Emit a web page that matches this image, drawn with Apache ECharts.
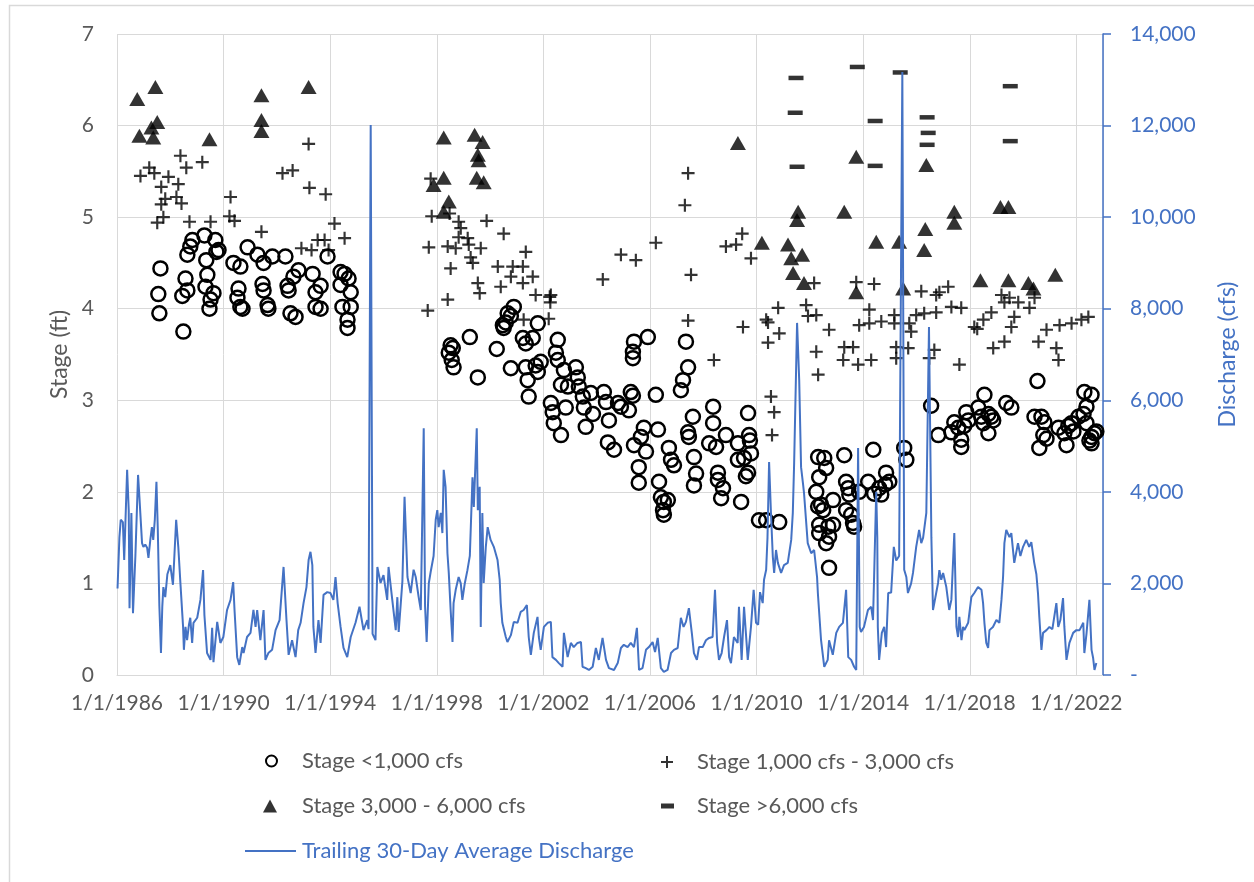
<!DOCTYPE html>
<html>
<head>
<meta charset="utf-8">
<title>Stage and Discharge</title>
<script src="https://cdn.jsdelivr.net/npm/echarts@6/dist/echarts.min.js"></script>
<style>
  html, body { margin: 0; padding: 0; background: #ffffff; }
  #chart { width: 1254px; height: 882px; }
</style>
</head>
<body>
<div id="chart"></div>
<script>
// Axis setup
const BASE_YEAR = 1986;      // first labelled date, 1/1/1986
const END_YEAR = 2023;       // right edge of the date axis
const YEAR_STEP = 4;         // one label every four years
const STAGE_MAX = 7;
const DISCHARGE_MAX = 14000;
const DISCHARGE_STEP = 2000;

// Trailing 30-day average discharge: [decimal year, cfs]
const discharge = [
  [1986.02,1890],[1986.09,3000],[1986.14,3390],[1986.22,3340],[1986.27,2510],[1986.38,4480],[1986.44,3600],[1986.47,1460],
  [1986.54,3540],[1986.60,1350],[1986.69,2600],[1986.79,4370],[1986.84,3890],[1986.94,2880],[1986.99,2800],[1987.06,2850],
  [1987.13,2780],[1987.18,2560],[1987.25,2950],[1987.31,3230],[1987.36,2950],[1987.42,3400],[1987.48,4220],[1987.53,3200],
  [1987.59,1500],[1987.65,480],[1987.70,1500],[1987.74,1920],[1987.81,1700],[1987.89,2200],[1988.00,2400],[1988.10,1970],
  [1988.22,3390],[1988.30,2800],[1988.38,2000],[1988.48,1050],[1988.51,550],[1988.57,1050],[1988.63,760],[1988.70,1100],
  [1988.75,1250],[1988.82,700],[1988.87,1140],[1989.01,1250],[1989.13,1640],[1989.23,2290],[1989.28,1310],[1989.38,480],
  [1989.51,330],[1989.57,1030],[1989.62,280],[1989.76,1160],[1989.88,700],[1989.99,830],[1990.13,1420],[1990.26,1640],
  [1990.36,2030],[1990.41,1420],[1990.51,390],[1990.59,220],[1990.70,610],[1990.75,480],[1990.88,830],[1991.01,920],
  [1991.12,1420],[1991.20,1050],[1991.26,1420],[1991.38,760],[1991.50,1420],[1991.57,330],[1991.68,480],[1991.82,550],
  [1991.95,980],[1992.10,1200],[1992.25,2360],[1992.36,1200],[1992.44,440],[1992.57,760],[1992.70,390],[1992.80,980],
  [1992.89,1140],[1993.00,1570],[1993.11,1920],[1993.19,2510],[1993.26,2690],[1993.33,2400],[1993.37,1050],[1993.45,480],
  [1993.56,1200],[1993.64,700],[1993.75,1750],[1993.89,1810],[1994.01,1790],[1994.12,1640],[1994.20,2140],[1994.28,1570],
  [1994.39,1050],[1994.50,590],[1994.64,390],[1994.77,830],[1994.95,1140],[1995.10,1490],[1995.25,980],[1995.39,1200],
  [1995.44,1000],[1995.52,12010],[1995.59,900],[1995.70,760],[1995.77,2360],[1995.89,2010],[1996.00,2180],[1996.14,1640],
  [1996.19,2360],[1996.33,1640],[1996.46,980],[1996.52,1700],[1996.57,940],[1996.71,2050],[1996.79,3890],[1996.90,2140],
  [1997.02,1790],[1997.13,2300],[1997.21,2140],[1997.32,1700],[1997.40,1420],[1997.51,5390],[1997.56,1500],[1997.62,720],
  [1997.70,2000],[1997.77,2250],[1997.88,2600],[1997.96,3390],[1998.02,3600],[1998.07,3230],[1998.15,3540],[1998.21,3100],
  [1998.26,4480],[1998.33,4110],[1998.40,2660],[1998.45,2230],[1998.52,1420],[1998.59,720],[1998.63,1570],[1998.71,1860],
  [1998.82,2140],[1998.90,2000],[1998.96,1640],[1999.05,2000],[1999.15,2290],[1999.24,2600],[1999.34,4320],[1999.39,3670],
  [1999.50,5390],[1999.54,3600],[1999.61,4110],[1999.65,1050],[1999.71,3540],[1999.76,2010],[1999.84,2800],[1999.91,3230],
  [2000.02,2950],[2000.14,2800],[2000.28,2510],[2000.36,2080],[2000.40,1570],[2000.46,1140],[2000.59,830],[2000.65,720],
  [2000.78,870],[2000.89,1160],[2001.03,1140],[2001.15,1380],[2001.26,1420],[2001.38,1530],[2001.45,830],[2001.53,440],
  [2001.64,920],[2001.78,1270],[2001.83,830],[2001.90,550],[2002.02,1050],[2002.16,1140],[2002.28,1160],[2002.34,390],
  [2002.47,330],[2002.58,260],[2002.72,180],[2002.77,920],[2002.91,390],[2003.03,700],[2003.14,610],[2003.28,700],
  [2003.41,720],[2003.47,180],[2003.59,150],[2003.71,110],[2003.85,180],[2003.97,590],[2004.08,330],[2004.22,810],
  [2004.35,330],[2004.46,150],[2004.65,110],[2004.79,260],[2004.91,590],[2005.02,660],[2005.16,610],[2005.28,700],
  [2005.40,610],[2005.51,1030],[2005.59,110],[2005.72,150],[2005.85,550],[2005.96,610],[2006.10,720],[2006.19,500],
  [2006.29,810],[2006.41,150],[2006.52,70],[2006.66,110],[2006.79,480],[2006.90,550],[2007.04,590],[2007.16,1250],
  [2007.26,1050],[2007.35,1160],[2007.46,1460],[2007.57,920],[2007.65,480],[2007.76,330],[2007.84,610],[2007.98,610],
  [2008.10,760],[2008.22,810],[2008.35,830],[2008.44,1860],[2008.52,700],[2008.59,330],[2008.69,480],[2008.78,830],
  [2008.89,1200],[2008.97,390],[2009.04,260],[2009.15,830],[2009.29,700],[2009.34,1490],[2009.44,330],[2009.53,1490],
  [2009.67,330],[2009.79,1050],[2009.89,1860],[2009.98,1140],[2010.06,1100],[2010.13,1810],[2010.23,1570],[2010.28,2080],
  [2010.36,2300],[2010.41,3000],[2010.47,4650],[2010.54,3540],[2010.61,2580],[2010.66,2230],[2010.73,2730],[2010.80,2450],
  [2010.92,2230],[2011.03,2400],[2011.17,2450],[2011.30,2950],[2011.36,3540],[2011.41,4630],[2011.52,7690],[2011.60,6440],
  [2011.67,4540],[2011.74,4190],[2011.78,3980],[2011.92,2880],[2012.05,2660],[2012.16,2730],[2012.27,2140],[2012.30,1790],
  [2012.42,760],[2012.54,180],[2012.67,330],[2012.72,760],[2012.86,440],[2012.99,920],[2013.10,1050],[2013.24,1140],
  [2013.36,1860],[2013.44,390],[2013.55,330],[2013.66,180],[2013.74,110],[2013.81,4960],[2013.87,1050],[2013.92,940],
  [2014.03,1050],[2014.18,1420],[2014.30,1490],[2014.37,1200],[2014.42,2360],[2014.49,4000],[2014.53,3000],[2014.55,1050],
  [2014.60,330],[2014.70,920],[2014.79,1050],[2014.86,610],[2014.94,1790],[2015.05,1800],[2015.15,2800],[2015.24,2500],
  [2015.35,2600],[2015.47,13170],[2015.54,2300],[2015.62,2140],[2015.68,1790],[2015.80,2000],[2015.87,2230],[2015.99,2800],
  [2016.10,3170],[2016.18,2880],[2016.25,3000],[2016.37,3540],[2016.47,7600],[2016.56,3000],[2016.62,1420],[2016.67,1570],
  [2016.81,2010],[2016.86,2290],[2016.93,2080],[2017.00,2230],[2017.12,1920],[2017.23,1420],[2017.31,1640],[2017.42,3100],
  [2017.50,1050],[2017.56,830],[2017.61,1270],[2017.69,760],[2017.75,1050],[2017.80,980],[2017.94,1140],[2018.06,1700],
  [2018.17,1790],[2018.31,1920],[2018.44,1860],[2018.50,1570],[2018.55,1140],[2018.62,700],[2018.69,590],[2018.74,980],
  [2018.87,1050],[2019.00,1200],[2019.11,1140],[2019.19,1640],[2019.25,2140],[2019.30,2880],[2019.37,3170],[2019.49,3010],
  [2019.56,3100],[2019.67,2450],[2019.81,2880],[2019.90,2600],[2020.00,2800],[2020.12,2950],[2020.23,2800],[2020.31,2900],
  [2020.42,2450],[2020.50,2200],[2020.56,1790],[2020.61,1270],[2020.69,550],[2020.75,920],[2020.88,980],[2020.99,1050],
  [2021.10,1000],[2021.25,1570],[2021.32,1050],[2021.40,1200],[2021.50,1680],[2021.55,1050],[2021.63,330],[2021.74,700],
  [2021.88,920],[2022.00,980],[2022.12,980],[2022.26,1140],[2022.30,480],[2022.38,900],[2022.49,1640],[2022.57,550],
  [2022.63,370],[2022.68,110],[2022.75,260]
];

// Stage readings grouped by discharge class: [decimal year, stage ft]
const stageBelow1000 = [
  [1987.55,4.16],[1987.59,3.95],[1987.63,4.44],[1988.45,4.14],[1988.49,3.75],[1988.57,4.33],[1988.64,4.20],[1988.64,4.59],
  [1988.75,4.68],[1988.83,4.75],[1989.28,4.80],[1989.32,4.24],[1989.35,4.53],[1989.39,4.37],[1989.47,4.00],[1989.51,4.10],
  [1989.62,4.17],[1989.69,4.75],[1989.73,4.62],[1989.81,4.64],[1990.37,4.50],[1990.52,4.12],[1990.56,4.22],[1990.63,4.02],
  [1990.63,4.46],[1990.71,4.00],[1990.90,4.67],[1991.27,4.59],[1991.46,4.27],[1991.50,4.50],[1991.50,4.20],[1991.65,4.04],
  [1991.68,4.00],[1991.83,4.57],[1992.32,4.57],[1992.40,4.25],[1992.44,4.20],[1992.51,3.95],[1992.62,4.35],[1992.70,3.91],
  [1992.81,4.42],[1993.34,4.38],[1993.45,4.18],[1993.45,4.02],[1993.64,4.00],[1993.64,4.25],[1993.90,4.57],[1994.39,4.26],
  [1994.39,4.40],[1994.46,4.02],[1994.54,4.38],[1994.65,3.88],[1994.65,3.79],[1994.69,4.33],[1994.77,4.18],[1994.77,4.02],
  [1998.45,3.52],[1998.52,3.60],[1998.56,3.44],[1998.60,3.57],[1998.63,3.36],[1999.24,3.69],[1999.54,3.25],[2000.25,3.56],
  [2000.48,3.82],[2000.51,3.79],[2000.59,3.85],[2000.66,3.95],[2000.78,3.35],[2000.78,3.92],[2000.89,4.02],[2001.23,3.68],
  [2001.34,3.62],[2001.34,3.36],[2001.41,3.22],[2001.45,3.04],[2001.60,3.68],[2001.71,3.38],[2001.79,3.84],[2001.79,3.31],
  [2001.90,3.42],[2002.28,2.97],[2002.35,2.87],[2002.39,2.75],[2002.47,3.52],[2002.54,3.66],[2002.54,3.44],[2002.66,2.62],
  [2002.66,3.17],[2002.77,3.33],[2002.84,2.92],[2002.92,3.15],[2003.22,3.36],[2003.29,3.25],[2003.33,3.15],[2003.48,3.04],
  [2003.52,2.92],[2003.59,2.71],[2003.78,3.08],[2003.86,2.85],[2004.27,3.09],[2004.35,2.98],[2004.42,2.54],[2004.46,2.78],
  [2004.65,2.46],[2004.80,2.97],[2004.91,2.93],[2005.21,2.89],[2005.28,3.09],[2005.36,3.05],[2005.36,3.53],[2005.36,3.46],
  [2005.40,3.64],[2005.40,2.51],[2005.58,2.27],[2005.58,2.10],[2005.66,2.60],[2005.77,2.70],[2005.85,2.44],[2005.92,3.69],
  [2006.22,3.06],[2006.30,2.68],[2006.34,2.11],[2006.41,1.94],[2006.49,1.80],[2006.52,1.89],[2006.52,1.75],[2006.67,1.91],
  [2006.71,2.48],[2006.79,2.35],[2006.90,2.29],[2007.16,3.11],[2007.24,3.22],[2007.35,3.64],[2007.43,3.36],[2007.43,2.65],
  [2007.46,2.60],[2007.61,2.82],[2007.65,2.38],[2007.65,2.07],[2007.73,2.20],[2008.22,2.53],[2008.37,2.93],[2008.37,2.75],
  [2008.48,2.49],[2008.55,2.21],[2008.55,2.13],[2008.67,1.93],[2008.74,2.04],[2008.85,2.62],[2009.30,2.53],[2009.30,2.35],
  [2009.42,1.89],[2009.53,2.37],[2009.60,2.17],[2009.68,2.86],[2009.68,2.21],[2009.72,2.62],[2009.75,2.56],[2009.79,2.42],
  [2010.09,1.69],[2010.36,1.69],[2010.85,1.67],
  [2012.24,2.00],[2012.31,2.38],[2012.31,1.84],[2012.35,2.16],[2012.35,1.64],[2012.35,1.55],[2012.42,1.86],[2012.50,1.80],
  [2012.54,2.37],[2012.61,2.26],[2012.61,1.44],[2012.69,1.62],[2012.72,1.51],[2012.72,1.17],[2012.87,1.91],[2012.87,1.64],
  [2013.29,2.40],[2013.36,2.11],[2013.36,1.80],[2013.44,2.04],[2013.48,1.97],[2013.55,1.75],[2013.62,1.66],[2013.66,1.62],
  [2013.85,2.00],[2014.19,2.11],[2014.38,2.46],[2014.41,1.98],[2014.60,2.04],[2014.68,1.97],[2014.83,2.08],[2014.86,2.21],
  [2014.98,2.11],[2015.54,2.48],[2015.62,2.35],[2016.55,2.94],[2016.82,2.62],[2017.31,2.65],[2017.42,2.76],[2017.57,2.70],
  [2017.68,2.57],[2017.68,2.49],[2017.79,2.72],[2017.87,2.87],[2017.95,2.78],[2018.32,2.92],[2018.43,2.82],[2018.51,2.75],
  [2018.55,3.06],[2018.70,2.85],[2018.70,2.64],[2018.81,2.82],[2018.88,2.78],[2019.37,2.97],[2019.56,2.92],[2020.43,2.82],
  [2020.54,3.21],[2020.61,2.48],[2020.69,2.82],[2020.76,2.62],[2020.80,2.76],[2020.88,2.58],[2021.33,2.70],[2021.55,2.64],
  [2021.63,2.51],[2021.70,2.72],[2021.82,2.75],[2021.89,2.66],[2022.08,2.82],[2022.27,2.85],[2022.30,3.09],[2022.38,2.93],
  [2022.38,2.75],[2022.49,2.56],[2022.57,3.06],[2022.57,2.60],[2022.57,2.53],[2022.68,2.64],[2022.75,2.66]
];

const stage1000to3000 = [
  [1986.88,5.45],[1987.21,5.54],[1987.40,5.48],[1987.66,5.33],[1987.93,5.44],[1988.38,5.67],[1988.60,5.54],[1988.30,5.36],
  [1988.23,5.22],[1987.81,5.20],[1987.66,5.14],[1988.42,5.15],[1987.51,4.94],[1987.74,5.00],[1988.72,4.95],[1989.51,4.95],
  [1989.20,5.60],[1990.26,5.22],[1990.22,5.01],[1990.41,4.96],[1991.42,4.84],[1992.21,5.48],[1992.59,5.51],[1993.19,5.80],
  [1993.22,5.32],[1993.83,5.25],[1994.16,4.93],[1994.54,4.77],[1992.92,4.66],[1993.30,4.64],[1993.53,4.75],[1993.79,4.75],
  [1993.94,4.64],
  [1997.77,5.42],[1997.81,5.01],[1997.70,4.67],[1997.66,3.98],[1998.48,5.04],[1998.82,4.95],[1999.87,4.96],[2000.51,4.82],
  [1998.41,4.68],[1998.71,4.66],[1999.20,4.70],[1999.65,4.66],[1998.52,4.44],[1999.27,4.56],[1999.35,4.50],[2000.29,4.46],
  [2000.85,4.46],[2001.23,4.46],[2001.34,4.62],[1999.54,4.28],[2000.78,4.35],[2001.23,4.28],[2001.60,4.35],[2001.71,4.15],
  [2002.28,4.15],[2000.40,4.24],[1998.41,4.10],[1999.61,4.17],[1998.90,4.88],[1998.82,4.78],[1999.16,4.77],[2002.24,4.13],
  [2002.26,4.07],[2001.26,3.88],[2002.20,3.89],[2004.23,4.32],[2004.91,4.59],[2005.47,4.53],[2006.22,4.72],[2007.31,5.13],
  [2007.43,5.48],[2007.54,4.37],[2007.43,3.87],[2008.40,3.44],[2008.85,4.68],[2009.23,4.70],[2009.46,4.82],[2009.79,4.55],
  [2009.49,3.80],[2010.36,3.88],[2010.43,3.85],[2010.81,4.01],[2010.85,3.73],[2010.43,3.63],[2010.54,3.04],[2010.66,2.87],
  [2010.58,2.62],
  [2011.86,4.04],[2011.93,3.92],[2012.16,4.28],[2012.24,3.93],[2012.24,3.53],[2012.31,3.28],[2012.72,3.77],[2013.29,3.58],
  [2013.25,3.44],[2013.62,3.58],[2013.81,3.39],[2013.74,4.29],[2014.30,3.44],[2013.85,3.82],[2014.23,3.84],[2014.23,3.99],
  [2014.41,4.27],[2014.68,3.86],[2015.17,3.93],[2015.17,3.84],[2015.24,3.58],[2015.24,3.46],[2015.69,3.57],[2015.73,3.84],
  [2015.80,3.75],[2015.99,3.93],[2016.18,4.19],[2016.29,3.95],[2016.48,3.46],[2016.67,3.55],[2016.74,3.96],[2016.74,4.15],
  [2016.86,4.18],[2017.19,4.24],[2017.31,4.02],[2017.68,4.01],[2017.61,3.39],[2018.17,3.80],[2018.28,3.78],[2018.51,3.88],
  [2018.81,3.96],[2018.88,3.57],[2019.30,3.64],[2019.19,4.15],[2019.30,4.07],[2019.49,4.12],[2019.82,4.07],[2019.67,3.91],
  [2019.56,3.80],[2020.24,4.01],[2020.43,4.12],[2020.58,3.64],[2020.88,3.77],[2021.25,3.57],[2021.33,3.44],[2021.37,3.82],
  [2021.82,3.84],[2022.19,3.88],[2022.45,3.91]
];

const stage3000to6000 = [
  [1986.76,6.29],[1987.44,6.42],[1987.29,5.98],[1987.51,6.04],[1986.84,5.89],[1987.36,5.87],[1989.47,5.85],[1991.42,6.33],
  [1991.42,6.06],[1991.42,5.94],[1993.19,6.42],
  [1998.26,5.87],[1999.42,5.90],[1999.72,5.82],[1999.54,5.68],[1999.57,5.62],[1999.50,5.43],[1999.76,5.38],[1998.26,5.43],
  [1997.88,5.35],[1998.45,5.17],[1998.26,5.06],[2009.30,5.81],[2010.20,4.72],
  [2011.56,5.06],[2011.52,4.97],[2011.18,4.70],[2011.30,4.55],[2011.71,4.59],[2011.37,4.39],[2011.78,4.28],[2013.74,5.66],
  [2016.37,5.57],[2013.29,5.06],[2014.49,4.73],[2015.35,4.73],[2016.33,4.87],[2016.29,4.64],[2017.42,5.06],[2017.42,4.94],
  [2019.15,5.11],[2019.45,5.11],[2018.40,4.31],[2019.45,4.31],[2020.20,4.28],[2020.39,4.22],[2021.21,4.37],[2013.74,4.18],
  [2015.50,4.22]
];

const stageAbove6000 = [
  [2011.48,6.52],[2011.45,6.14],[2011.52,5.55],[2013.78,6.64],[2015.39,6.58],[2014.45,6.05],[2014.45,5.56],[2016.40,6.09],
  [2016.44,5.92],[2016.40,5.79],[2019.52,6.43],[2019.52,5.83]
];

const seriesNames = [
  'Stage <1,000 cfs',
  'Stage 1,000 cfs - 3,000 cfs',
  'Stage 3,000 - 6,000 cfs',
  'Stage >6,000 cfs',
  'Trailing 30-Day Average Discharge'
];

// Styling
const FONT = 'Lato';
const GRAY = '#595959';
const GRID = '#d9d9d9';
const BLUE = '#4472C4';
const PLUS = 'path://M5,0H7V5H12V7H7V12H5V7H0V5H5Z';

// Years are plotted as offsets from BASE_YEAR so ticks fall on 1/1 every four years
const toAxis = pts => pts.map(p => [+(p[0] - BASE_YEAR).toFixed(3), p[1]]);

const chart = echarts.init(document.getElementById('chart'), null, { renderer: 'canvas' });

const legendText = (pad, color) => ({
  color: color || GRAY, fontFamily: FONT, fontSize: 22, padding: [0, 0, 0, pad]
});
const legendBase = { padding: 0, selectedMode: false };

chart.setOption({
  backgroundColor: '#ffffff',
  animation: false,
  textStyle: { fontFamily: FONT },
  grid: { left: 117, right: 151, top: 34, bottom: 207, containLabel: false },
  graphic: [{
    // chart frame; its right and bottom edges run just past the canvas
    type: 'rect', silent: true, z: -10,
    shape: { x: 9.5, y: 5.5, width: 1250, height: 882 },
    style: { fill: 'none', stroke: GRID, lineWidth: 1.5 }
  }],
  legend: [
    Object.assign({ data: [seriesNames[0]], left: 265, top: 750, itemWidth: 11, itemHeight: 11,
      textStyle: legendText(20) }, legendBase),
    Object.assign({ data: [seriesNames[1]], left: 661, top: 751, itemWidth: 12, itemHeight: 12,
      textStyle: legendText(19) }, legendBase),
    Object.assign({ data: [seriesNames[2]], left: 263, top: 795, itemWidth: 14, itemHeight: 13,
      textStyle: legendText(20) }, legendBase),
    Object.assign({ data: [seriesNames[3]], left: 661, top: 795, itemWidth: 13, itemHeight: 5,
      textStyle: legendText(18) }, legendBase),
    Object.assign({ data: [{ name: seriesNames[4], icon: 'rect' }], left: 245, top: 840, itemWidth: 51, itemHeight: 2,
      textStyle: legendText(1, BLUE) }, legendBase)
  ],
  xAxis: {
    type: 'value',
    min: 0,
    max: END_YEAR - BASE_YEAR,
    interval: YEAR_STEP,
    axisLine: { show: true, lineStyle: { color: GRID, width: 1 } },
    axisTick: { show: false },
    axisLabel: {
      color: GRAY, fontFamily: FONT, fontSize: 21, margin: 18,
      formatter: v => (v % YEAR_STEP === 0 ? '1/1/' + (BASE_YEAR + v) : '')
    },
    splitLine: { show: true, lineStyle: { color: GRID, width: 1 } }
  },
  yAxis: [
    {
      type: 'value', min: 0, max: STAGE_MAX, interval: 1,
      name: 'Stage (ft)', nameLocation: 'middle', nameGap: 44,
      nameTextStyle: { color: GRAY, fontFamily: FONT, fontSize: 23 },
      axisLine: { show: false }, axisTick: { show: false },
      axisLabel: { color: GRAY, fontFamily: FONT, fontSize: 21, margin: 23 },
      splitLine: { show: true, lineStyle: { color: GRID, width: 1 } }
    },
    {
      type: 'value', min: 0, max: DISCHARGE_MAX, interval: DISCHARGE_STEP, position: 'right',
      name: 'Discharge (cfs)', nameLocation: 'middle', nameGap: 113, nameRotate: 90,
      nameTextStyle: { color: BLUE, fontFamily: FONT, fontSize: 23 },
      axisLine: { show: true, lineStyle: { color: BLUE, width: 1.5 } },
      axisTick: { show: true, inside: false, length: 8, lineStyle: { color: BLUE, width: 1.5 } },
      axisLabel: {
        color: BLUE, fontFamily: FONT, fontSize: 21, margin: 27,
        formatter: v => (v === 0 ? '-' : v.toLocaleString('en-US'))
      },
      splitLine: { show: false }
    }
  ],
  series: [
    {
      name: seriesNames[0], type: 'scatter', yAxisIndex: 0,
      symbol: 'circle', symbolSize: 14,
      itemStyle: { color: 'rgba(0,0,0,0)', borderColor: '#000000', borderWidth: 2.5, opacity: 1 },
      data: toAxis(stageBelow1000)
    },
    {
      name: seriesNames[1], type: 'scatter', yAxisIndex: 0,
      symbol: PLUS, symbolSize: 13,
      itemStyle: { color: '#000000' },
      data: toAxis(stage1000to3000)
    },
    {
      name: seriesNames[2], type: 'scatter', yAxisIndex: 0,
      symbol: 'triangle', symbolSize: [16, 14],
      itemStyle: { color: '#000000' },
      data: toAxis(stage3000to6000)
    },
    {
      name: seriesNames[3], type: 'scatter', yAxisIndex: 0,
      symbol: 'rect', symbolSize: [15, 4.5],
      itemStyle: { color: '#000000' },
      data: toAxis(stageAbove6000)
    },
    {
      name: seriesNames[4], type: 'line', yAxisIndex: 1,
      showSymbol: false, symbol: 'none',
      lineStyle: { color: BLUE, width: 2 },
      itemStyle: { color: BLUE },
      data: toAxis(discharge)
    }
  ]
});
</script>
</body>
</html>
